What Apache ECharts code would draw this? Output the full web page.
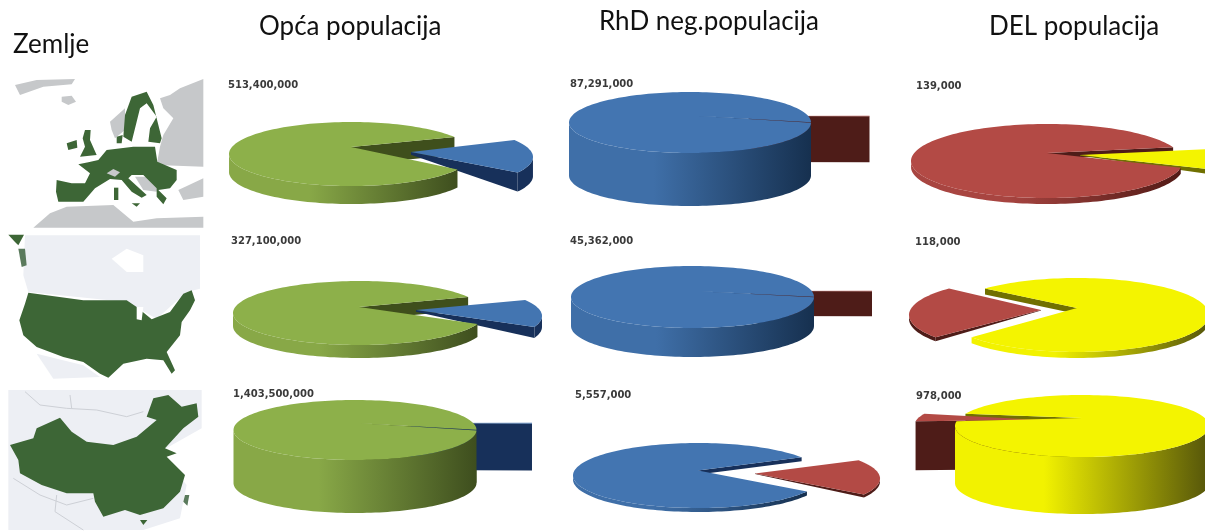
<!DOCTYPE html>
<html><head><meta charset="utf-8">
<style>html,body{margin:0;padding:0;background:#fff}#c{width:1205px;height:531px}</style>
<script src="https://cdn.jsdelivr.net/npm/echarts@6/dist/echarts.min.js"></script>
</head><body><div id="c"></div>
<script>
// ---------- data ----------
const columnTitles = ['Opća populacija', 'RhD neg.populacija', 'DEL populacija'];
const rowTitle = 'Zemlje';
const generalPopulation = [513400000, 327100000, 1403500000];
const rhdNegPopulation = [87291000, 45362000, 5557000];
const delPopulation = [139000, 118000, 978000];
// DEL column: share of the small slice as estimated from the drawn wedge (%)
const delColumnSliceShare = [9, 23, 4];

// ---------- layout ----------
const columnValues = [generalPopulation, rhdNegPopulation, delPopulation];
function sliceShare(col, row) {
  if (col === 0) return rhdNegPopulation[row] / generalPopulation[row] * 100;
  if (col === 1) return delPopulation[row] / rhdNegPopulation[row] * 100;
  return delColumnSliceShare[row];
}
const G = {top:'#8DB04A', s0:'#88A847', s1:'#3E4E1E', wall:'#3F4F1C'};
const B = {top:'#4375B1', s0:'#3F6FA8', s1:'#16304F', wall:'#17305A'};
const R = {top:'#B34A45', s0:'#A84541', s1:'#521A16', wall:'#4E1C18'};
const Y = {top:'#F4F400', s0:'#F2F200', s1:'#55550A', wall:'#707000'};
const pies = [
 {c:0,r:0,cx:351,cy:154,rx:122,ry:32,d:18,tip:-7,a0:-32,main:G,sl:B,dx:60,dy:3,stip:-5,sd:19,tp:0.15,lx:228,ly:85},
 {c:0,r:1,cx:359,cy:313,rx:126,ry:32,d:13,tip:-6,a0:-30,main:G,sl:B,dx:57,dy:3,stip:-6,sd:11,tp:0.15,lx:231,ly:241},
 {c:0,r:2,cx:355,cy:430,rx:121.5,ry:30,d:53,tip:-7,a0:-0.7,main:G,sl:B,dx:55.5,dy:-7,stip:0,sd:47,tp:1,lx:233,ly:394},
 {c:1,r:0,cx:690,cy:122.5,rx:121,ry:30.5,d:53,tip:-7,a0:-0.3,main:B,sl:R,dx:58.5,dy:-6.5,stip:0,sd:46,tp:1,lx:570,ly:84},
 {c:1,r:1,cx:692.5,cy:297,rx:121.5,ry:31,d:29,tip:-6,a0:-0.5,main:B,sl:R,dx:58,dy:-6,stip:0,sd:25,tp:1,lx:570,ly:241},
 {c:1,r:2,cx:698,cy:475.5,rx:125,ry:32.5,d:4,tip:-5,a0:-34,main:B,sl:R,dx:57,dy:3,stip:-5,sd:3,tp:0.15,lx:575,ly:395},
 {c:2,r:0,cx:1047,cy:161,rx:136,ry:37,d:6,tip:-8,a0:-22,main:R,sl:Y,dx:33,dy:2,stip:-8,sd:5,tp:0.15,lx:916,ly:86},
 {c:2,r:1,cx:1077,cy:315,rx:132,ry:37,d:6,tip:-7,a0:143,main:Y,sl:R,dx:-36,dy:0,stip:-5,sd:4,tp:0.15,lx:915,ly:242},
 {c:2,r:2,cx:1082,cy:426,rx:127,ry:31,d:57,tip:-8,a0:189,main:Y,sl:R,dx:-41,dy:0,stip:-6,sd:49,tp:1,lx:916,ly:396}
];
const rad = a => a * Math.PI / 180;
function grad(s){ return new echarts.graphic.LinearGradient(0,0,1,0,[{offset:0,color:s.s0},{offset:0.35,color:s.s0},{offset:1,color:s.s1}]); }
function arc(p, from, to, ox, oy) {
  const pts = [], n = Math.max(2, Math.ceil(Math.abs(to-from)/2));
  for (let i=0;i<=n;i++){ const a=from+(to-from)*i/n;
    pts.push({a, x:p.cx+ox+p.rx*Math.cos(rad(a)), y:p.cy+oy+p.ry*Math.sin(rad(a))}); }
  return pts;
}
function poly(api, pts, fill, z){
  return {type:'polygon', shape:{points:pts.map(q=>api.coord(q))}, style:{fill:fill, stroke:null}, z2:z};
}
function frontRuns(pts){
  const runs=[]; let cur=[];
  pts.forEach(q=>{ if(Math.sin(rad(q.a))>=-0.001) cur.push(q); else { if(cur.length>1) runs.push(cur); cur=[]; }});
  if(cur.length>1) runs.push(cur);
  return runs;
}
function renderPie(params, api){
  const p = pies[api.value(0)];
  const sweep = api.value(1) * 3.6, a1 = p.a0 + sweep;
  const kids = [];
  const upA = Math.sin(rad(p.a0)) < Math.sin(rad(a1)) ? p.a0 : a1;
  const tip = [p.cx, p.cy + p.tip];
  const up = [p.cx + p.rx*Math.cos(rad(upA)), p.cy + p.ry*Math.sin(rad(upA))];
  kids.push(poly(api,[tip,up,[up[0],up[1]+p.d],[tip[0],tip[1]+p.d]],p.main.wall,1));
  const sArc = arc(p,p.a0,a1,p.dx,p.dy);
  const sTip = [p.cx+p.dx, p.cy+p.dy+p.stip];
  const lowA = upA === p.a0 ? a1 : p.a0;
  const low = [p.cx+p.dx+p.rx*Math.cos(rad(lowA)), p.cy+p.dy+p.ry*Math.sin(rad(lowA))];
  frontRuns(sArc).forEach(run=>{
    const t = run.map(q=>[q.x,q.y]), b = run.map(q=>[q.x,q.y+p.sd]).reverse();
    kids.push(poly(api,t.concat(b),p.sl.wall,2));
  });
  kids.push(poly(api,[sTip,low,[low[0],low[1]+p.sd],[sTip[0],sTip[1]+p.sd*p.tp]],p.sl.wall,3));
  kids.push(poly(api,[sTip].concat(sArc.map(q=>[q.x,q.y])),p.sl.top,4));
  const mArc = arc(p,a1,p.a0+360,0,0);
  frontRuns(mArc).forEach(run=>{
    const t = run.map(q=>[q.x,q.y]), b = run.map(q=>[q.x,q.y+p.d]).reverse();
    kids.push(poly(api,t.concat(b),grad(p.main),5));
  });
  kids.push(poly(api,[tip].concat(mArc.map(q=>[q.x,q.y])),p.main.top,6));
  const lp = api.coord([p.lx,p.ly]);
  kids.push({type:'text',z2:7,x:lp[0],y:lp[1],
    style:{text:columnValues[p.c][p.r].toLocaleString('en-US'),fill:'#3a3a3a',
    font:'bold 10px "DejaVu Sans"',textAlign:'left',textVerticalAlign:'middle'}});
  return {type:'group',children:kids};
}

const LAND='#C6C8CA', EU='#3D6636', PALE='#EDEFF4';
const at = (oy)=>(a)=>a.map(q=>[q[0]/3, q[1]/3+oy]);
const m1=at(75), m2=at(232), m3=at(385);
function shape(pts,fill,z){return {type:'polygon',shape:{points:pts},style:{fill:fill},z:z||1,silent:true};}
function line(pts,z){return {type:'polyline',shape:{points:pts},style:{stroke:'#CDD0D6',lineWidth:1,fill:null},z:z||1,silent:true};}
const mapGraphics = [
 shape(m1([[45,30],[110,15],[225,12],[215,28],[130,35],[60,60]]),LAND),
 shape(m1([[185,65],[215,62],[228,80],[205,90],[185,80]]),LAND),
 shape(m1([[610,12],[610,275],[470,270],[480,215],[490,180],[520,130],[490,100],[480,70],[510,60],[540,40]]),LAND),
 shape(m1([[330,140],[375,100],[375,165],[345,190],[335,165]]),LAND),
 shape(m1([[405,305],[480,305],[470,350],[430,345]]),LAND),
 shape(m1([[535,345],[610,310],[610,365],[550,375]]),LAND),
 shape(m1([[100,458],[150,415],[200,395],[340,390],[400,440],[470,430],[610,425],[610,458]]),LAND),
 shape(m1([[170,315],[215,325],[255,325],[270,295],[235,268],[265,262],[295,255],[320,225],[400,215],[465,215],[472,260],[530,285],[530,315],[510,340],[475,345],[500,370],[490,388],[470,365],[470,340],[430,300],[395,300],[385,310],[440,360],[425,368],[395,350],[365,315],[330,312],[285,340],[250,380],[175,380],[168,350]]),EU,2),
 shape(m1([[320,295],[340,282],[360,292],[345,305]]),LAND,3),
 shape(m1([[255,165],[272,165],[270,195],[290,240],[240,245],[255,215],[248,190]]),EU,2),
 shape(m1([[200,205],[230,195],[232,218],[205,225]]),EU,2),
 shape(m1([[375,120],[395,65],[440,50],[460,90],[485,190],[480,205],[445,200],[450,160],[470,125],[440,85],[420,100],[410,140],[395,200],[370,185]]),EU,2),
 shape(m1([[350,185],[368,180],[365,205],[350,205]]),EU,2),
 shape(m1([[342,338],[355,338],[355,375],[342,375]]),EU,2),
 shape(m1([[395,385],[420,385],[410,395]]),EU,2),
 // North America
 shape(m2([[75,10],[600,10],[600,170],[560,180],[470,260],[380,210],[85,180],[70,130]]),PALE),
 shape(m2([[335,80],[380,50],[430,70],[430,120],[380,120]]),'#FFFFFF',1),
 shape(m2([[110,365],[250,400],[300,435],[160,440]]),PALE),
 shape(m2([[85,182],[250,205],[380,205],[410,225],[455,262],[510,240],[550,185],[575,175],[585,205],[570,235],[545,270],[540,310],[500,360],[525,415],[515,425],[490,385],[440,380],[370,395],[325,437],[300,425],[250,390],[190,375],[110,345],[70,310],[58,265],[75,215]]),EU,2),
 shape(m2([[410,225],[430,225],[425,265],[410,262]]),'#FFFFFF',3),
 shape(m2([[25,8],[72,8],[55,40],[45,30]]),EU,2),
 shape(m2([[55,50],[75,50],[80,100],[65,105]]),'#5A7A5C',2),
 // China
 shape(m3([[25,15],[605,15],[605,130],[480,200],[560,300],[540,400],[430,435],[25,435]]),PALE),
 line(m3([[75,20],[120,60],[200,70],[290,75],[380,95],[430,80]])),
 line(m3([[210,30],[215,70]])),
 line(m3([[40,280],[120,330],[200,360],[280,340]])),
 line(m3([[170,330],[165,380],[250,435]])),
 shape(m3([[30,180],[100,160],[110,130],[180,98],[215,140],[260,170],[340,180],[410,155],[470,105],[440,95],[460,40],[505,30],[545,65],[590,55],[595,95],[550,130],[495,190],[530,205],[500,215],[555,270],[540,320],[490,370],[420,390],[375,375],[310,395],[285,350],[280,325],[200,325],[125,300],[60,265],[55,225]]),EU,2),
 shape(m3([[555,330],[568,330],[562,362],[550,350]]),'#5A7A5C',2),
 shape(m3([[420,405],[442,405],[430,420]]),EU,2)
];
const T = (text,x,y)=>({type:'text',x:x,y:y,z:5,silent:true,style:{text:text,fill:'#111',font:'26px Lato',textAlign:'left',textVerticalAlign:'middle'}});

const chart = echarts.init(document.getElementById('c'),null,{renderer:'canvas'});
chart.setOption({
  animation:false,
  backgroundColor:'#fff',
  grid:{left:0,right:0,top:0,bottom:0},
  xAxis:{type:'value',min:0,max:1205,show:false},
  yAxis:{type:'value',min:0,max:531,inverse:true,show:false},
  graphic:mapGraphics.concat([T(rowTitle,13,45),T(columnTitles[0],259,27),T(columnTitles[1],599,22),T(columnTitles[2],989,27)]),
  series:[{type:'custom',coordinateSystem:'cartesian2d',clip:false,
    encode:{x:0,y:1},renderItem:renderPie,
    data:pies.map((p,i)=>[i,sliceShare(p.c,p.r)])}]
});
</script></body></html>
